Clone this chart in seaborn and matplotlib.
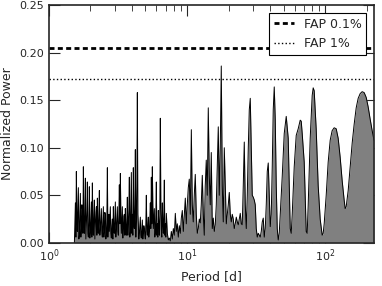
import seaborn as sns
import matplotlib
matplotlib.use("Agg")
import matplotlib.pyplot as plt

# periodogram (period in days, normalized power)
period = [
    1.529, 1.542, 1.555, 1.568, 1.580, 1.593, 1.607, 1.620, 1.634, 1.648,
    1.661, 1.675, 1.690, 1.704, 1.718, 1.732, 1.747, 1.762, 1.776, 1.791,
    1.806, 1.821, 1.836, 1.851, 1.867, 1.883, 1.898, 1.914, 1.930, 1.946,
    1.962, 1.978, 1.996, 2.013, 2.029, 2.046, 2.063, 2.080, 2.098, 2.116,
    2.133, 2.151, 2.169, 2.187, 2.206, 2.224, 2.243, 2.262, 2.280, 2.299,
    2.318, 2.337, 2.357, 2.377, 2.397, 2.417, 2.437, 2.457, 2.478, 2.499,
    2.519, 2.540, 2.561, 2.582, 2.605, 2.627, 2.649, 2.671, 2.693, 2.716,
    2.738, 2.761, 2.784, 2.807, 2.831, 2.855, 2.879, 2.903, 2.927, 2.951,
    2.976, 3.001, 3.026, 3.051, 3.077, 3.103, 3.129, 3.155, 3.181, 3.208,
    3.234, 3.261, 3.289, 3.316, 3.344, 3.372, 3.400, 3.428, 3.457, 3.486,
    3.515, 3.544, 3.574, 3.604, 3.634, 3.664, 3.695, 3.726, 3.757, 3.788,
    3.820, 3.852, 3.885, 3.917, 3.950, 3.983, 4.016, 4.050, 4.083, 4.117,
    4.152, 4.187, 4.222, 4.257, 4.293, 4.329, 4.365, 4.401, 4.438, 4.475,
    4.513, 4.551, 4.588, 4.626, 4.665, 4.704, 4.744, 4.784, 4.824, 4.864,
    4.904, 4.945, 4.986, 5.028, 5.070, 5.112, 5.155, 5.198, 5.242, 5.286,
    5.330, 5.375, 5.420, 5.465, 5.511, 5.557, 5.603, 5.650, 5.697, 5.745,
    5.793, 5.841, 5.890, 5.939, 5.989, 6.039, 6.090, 6.141, 6.192, 6.244,
    6.296, 6.349, 6.401, 6.455, 6.509, 6.563, 6.618, 6.673, 6.729, 6.785,
    6.842, 6.899, 6.957, 7.015, 7.074,
    7.193, 7.313, 7.436, 7.561, 7.688, 7.817, 7.948,
    8.082, 8.218, 8.355, 8.495, 8.638, 8.783, 8.930, 9.080, 9.233, 9.388,
    9.546, 9.706, 9.867, 10.03, 10.20, 10.37, 10.55, 10.73, 10.90, 11.08,
    11.27, 11.46, 11.65, 11.85, 12.05, 12.25, 12.45, 12.66, 12.88, 13.10,
    13.31, 13.53, 13.76, 13.99, 14.23, 14.47, 14.71, 14.96, 15.21, 15.47,
    15.73, 15.99, 16.26, 16.53, 16.81, 17.09, 17.38, 17.67, 17.97, 18.27,
    18.58, 18.89, 19.21, 19.53, 19.86, 20.19, 20.53, 20.88, 21.22, 21.58,
    21.94, 22.31, 22.69, 23.07, 23.46, 23.85, 24.25, 24.66, 25.07, 25.49,
    25.92, 26.36, 26.80, 27.25, 27.71, 28.18, 28.64, 29.12, 29.61, 30.11,
    30.62, 31.13, 31.65, 32.18, 32.73, 33.28, 33.83, 34.40, 34.98, 35.57,
    36.16, 36.77, 37.39, 38.02, 38.65, 39.30, 39.96, 40.63, 41.31, 42.00,
    42.71, 43.43, 44.16, 44.90, 45.65, 46.42, 47.20, 48.79, 50.44, 52.15,
    53.91, 54.82, 55.74, 56.68, 57.62, 59.57, 61.59, 63.67, 65.83, 66.94,
    68.05, 70.36, 71.54, 72.74, 73.96, 75.20, 77.74, 80.37, 81.72, 83.09,
    85.90, 88.81, 91.82, 94.92, 96.52, 98.14, 101.5, 104.9, 108.5, 112.1,
    115.9, 119.9, 123.9, 128.1, 132.5, 136.9, 139.2, 141.6, 146.4, 151.4,
    156.5, 161.8, 167.3, 172.9, 178.8, 184.8, 191.1, 197.6, 204.2, 211.2,
    218.3, 225.0,
]
power = [
    0.000, 0.020, 0.042, 0.006, 0.075, 0.030, 0.012, 0.035, 0.058, 0.004,
    0.008, 0.028, 0.052, 0.006, 0.015, 0.040, 0.035, 0.010, 0.080, 0.025,
    0.010, 0.030, 0.068, 0.004, 0.020, 0.034, 0.064, 0.010, 0.006, 0.022,
    0.059, 0.005, 0.012, 0.028, 0.043, 0.006, 0.063, 0.020, 0.008, 0.030,
    0.045, 0.004, 0.018, 0.032, 0.038, 0.008, 0.047, 0.012, 0.010, 0.030,
    0.055, 0.008, 0.015, 0.026, 0.036, 0.010, 0.006, 0.022, 0.038, 0.006,
    0.012, 0.032, 0.030, 0.004, 0.008, 0.026, 0.079, 0.006, 0.020, 0.030,
    0.012, 0.025, 0.038, 0.010, 0.005, 0.018, 0.025, 0.004, 0.038, 0.012,
    0.010, 0.028, 0.043, 0.006, 0.015, 0.026, 0.038, 0.012, 0.008, 0.030,
    0.061, 0.020, 0.073, 0.030, 0.010, 0.025, 0.038, 0.005, 0.015, 0.028,
    0.030, 0.008, 0.036, 0.012, 0.008, 0.025, 0.048, 0.008, 0.020, 0.035,
    0.069, 0.006, 0.012, 0.040, 0.074, 0.010, 0.030, 0.008, 0.079, 0.020,
    0.015, 0.040, 0.098, 0.006, 0.025, 0.060, 0.158, 0.030, 0.020, 0.004,
    0.010, 0.018, 0.027, 0.008, 0.005, 0.015, 0.024, 0.004, 0.010, 0.018,
    0.015, 0.008, 0.004, 0.020, 0.050, 0.012, 0.008, 0.020, 0.027, 0.006,
    0.012, 0.025, 0.042, 0.015, 0.069, 0.020, 0.080, 0.040, 0.015, 0.025,
    0.036, 0.006, 0.010, 0.030, 0.064, 0.008, 0.020, 0.006, 0.034, 0.018,
    0.008, 0.030, 0.131, 0.040, 0.015, 0.006, 0.042, 0.020, 0.010, 0.030,
    0.066, 0.008, 0.020, 0.006, 0.031,
    0.010, 0.003, 0.005, 0.002, 0.012, 0.004, 0.015,
    0.008, 0.031, 0.012, 0.020, 0.006, 0.018, 0.010, 0.026, 0.034, 0.012,
    0.030, 0.047, 0.020, 0.040, 0.058, 0.067, 0.030, 0.119, 0.040, 0.022,
    0.050, 0.072, 0.030, 0.010, 0.015, 0.025, 0.021, 0.040, 0.071, 0.030,
    0.008, 0.060, 0.087, 0.050, 0.142, 0.070, 0.040, 0.095, 0.015, 0.026,
    0.012, 0.019, 0.040, 0.080, 0.122, 0.050, 0.100, 0.186, 0.060, 0.022,
    0.100, 0.060, 0.020, 0.030, 0.040, 0.053, 0.030, 0.022, 0.030, 0.025,
    0.015, 0.020, 0.027, 0.022, 0.019, 0.025, 0.031, 0.020, 0.019, 0.060,
    0.106, 0.040, 0.015, 0.050, 0.100, 0.140, 0.152, 0.100, 0.050, 0.048,
    0.045, 0.040, 0.015, 0.006, 0.010, 0.008, 0.006, 0.012, 0.022, 0.026,
    0.006, 0.015, 0.040, 0.075, 0.084, 0.050, 0.017, 0.030, 0.080, 0.140,
    0.164, 0.130, 0.060, 0.015, 0.003, 0.010, 0.030, 0.070, 0.115, 0.133,
    0.110, 0.060, 0.015, 0.010, 0.030, 0.080, 0.113, 0.120, 0.129, 0.128,
    0.115, 0.085, 0.050, 0.012, 0.010, 0.040, 0.110, 0.155, 0.163, 0.160,
    0.120, 0.060, 0.025, 0.008, 0.010, 0.020, 0.050, 0.085, 0.108, 0.118,
    0.121, 0.120, 0.110, 0.090, 0.065, 0.045, 0.036, 0.038, 0.055, 0.080,
    0.105, 0.125, 0.142, 0.152, 0.157, 0.159, 0.158, 0.153, 0.143, 0.130,
    0.118, 0.108,
]

fap_levels = [0.2053, 0.1726]
fap_labels = ["FAP 0.1%", "FAP 1%"]

sns.set_style("ticks", {"xtick.direction": "in", "ytick.direction": "in"})
plt.rcParams["font.family"] = ["DejaVu Sans"]

fig = plt.figure(figsize=(3.82, 2.86), dpi=100)
ax = fig.add_axes([0.128, 0.151, 0.851, 0.831])

ax.fill_between(period, power, 0, color="0.5", lw=0)
sns.lineplot(x=period, y=power, color="k", lw=0.7, estimator=None, sort=False, ax=ax)

ax.axhline(fap_levels[0], color="k", ls=(0, (1.8, 1.2)), lw=2, label=fap_labels[0])
ax.axhline(fap_levels[1], color="k", ls=":", lw=1, label=fap_labels[1])

ax.set_xscale("log")
ax.set_xlim(1, 225)
ax.set_ylim(0, 0.25)
ax.set_yticks([0.0, 0.05, 0.10, 0.15, 0.20, 0.25])
ax.yaxis.set_major_formatter(matplotlib.ticker.FormatStrFormatter("%.2f"))

ax.tick_params(which="both", top=True, right=True, direction="in", labelsize=8)
ax.tick_params(which="major", length=8, width=0.8)
ax.tick_params(which="minor", length=4, width=0.6)
for s in ax.spines.values():
    s.set_linewidth(1.2)

ax.set_xlabel("Period [d]", fontsize=9)
ax.set_ylabel("Normalized Power", fontsize=9)

leg = ax.legend(loc="upper right", fontsize=9, frameon=True, fancybox=False,
                framealpha=1, handlelength=1.6, borderaxespad=0.6)
leg.get_frame().set_edgecolor("k")
leg.get_frame().set_facecolor("white")
leg.get_frame().set_linewidth(0.8)

fig.savefig("out.png", dpi=100)
